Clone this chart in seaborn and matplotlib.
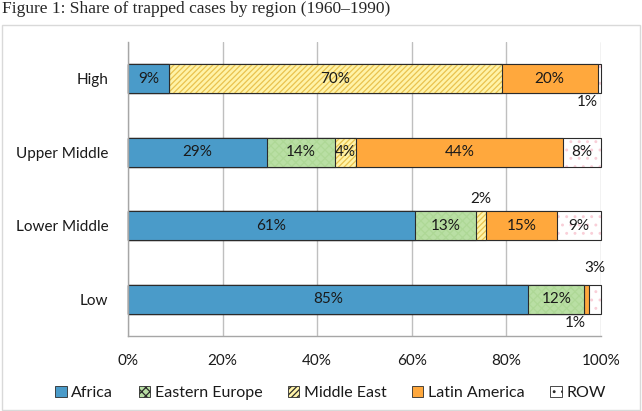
import matplotlib
matplotlib.use("Agg")
import matplotlib.pyplot as plt
from matplotlib.patches import Patch, Rectangle
import pandas as pd
import seaborn as sns

sns.set_style("white")
plt.rcParams["font.family"] = ["Lato", "DejaVu Sans"]
plt.rcParams["hatch.linewidth"] = 0.9

# shares (%)
groups = ["High", "Upper Middle", "Lower Middle", "Low"]
africa = [8.6, 29.4, 60.7, 84.6]
eastern_europe = [0.0, 14.4, 12.8, 11.9]
middle_east = [70.4, 4.3, 2.2, 0.0]
latin_america = [20.3, 43.9, 15.0, 1.0]
row = [0.7, 8.0, 9.3, 2.6]

regions = ["Africa", "Eastern Europe", "Middle East", "Latin America", "ROW"]
series = [africa, eastern_europe, middle_east, latin_america, row]
x_ticks = [0, 20, 40, 60, 80, 100]

styles = {
    "Africa": dict(color="#4A9BC9", hatch=None, hatchcolor=None),
    "Eastern Europe": dict(color="#B9DFA4", hatch="xxxx", hatchcolor="#AED896"),
    "Middle East": dict(color="#FFF3A8", hatch="//////", hatchcolor="#E9C24E"),
    "Latin America": dict(color="#FFA83D", hatch=None, hatchcolor=None),
    "ROW": dict(color="#FFFFFF", hatch="..", hatchcolor="#F9CFD8"),
}

# labels that sit outside the bar: (group, region) -> (side, y offset)
outside = {
    ("High", "ROW"): ("below", 0.31),
    ("Lower Middle", "Middle East"): ("above", -0.36),
    ("Low", "Latin America"): ("below", 0.32),
    ("Low", "ROW"): ("above", -0.43),
}

df = pd.DataFrame({"group": groups})
for name, vals in zip(regions, series):
    df[name] = vals
cum = df[regions].cumsum(axis=1)

fig = plt.figure(figsize=(6.42, 4.11), dpi=100)
ax = fig.add_axes([128 / 642, 1 - 336 / 411, 473 / 642, 294 / 411])

# draw cumulative bars from the total down so each segment shows
for name in reversed(regions):
    st = styles[name]
    n_before = len(ax.patches)
    sns.barplot(x=cum[name], y=df["group"], order=groups, orient="h",
                color=st["color"], saturation=1, width=0.4,
                edgecolor="#2B2B2B", linewidth=0.8, hatch=st["hatch"], ax=ax)
    for p in ax.patches[n_before:]:
        p.set_facecolor(st["color"])
        p.set_clip_on(False)
        if st["hatchcolor"]:
            if hasattr(p, "set_hatchcolor"):
                p.set_hatchcolor(st["hatchcolor"])
            else:
                p._hatch_color = matplotlib.colors.to_rgba(st["hatchcolor"])

# data labels
lab_kw = dict(fontsize=11, color="#1A1A1A", va="center")
for i, g in enumerate(groups):
    for name in regions:
        v = df.loc[i, name]
        if v <= 0:
            continue
        mid = cum.loc[i, name] - v / 2
        txt = f"{v:.0f}%"
        if (g, name) in outside:
            side, dy = outside[(g, name)]
            if side == "below":
                ax.text(mid - 0.3, i + dy, txt, ha="right", **lab_kw)
            else:
                ax.text(mid, i + dy, txt, ha="center", **lab_kw)
        else:
            ax.text(mid, i, txt, ha="center", **lab_kw)

ax.set_xlim(0, 100)
ax.set_ylim(len(groups) - 0.5, -0.5)
ax.set_xticks(x_ticks)
ax.set_xticklabels([f"{t}%" for t in x_ticks])
ax.set_xlabel("")
ax.set_ylabel("")
ax.xaxis.grid(True, color="#BFBFBF", linewidth=1)
ax.yaxis.grid(False)
ax.set_axisbelow(True)
ax.set_yticks(range(len(groups)))
ax.set_yticklabels(groups)
ax.set_yticks([k - 0.5 for k in range(len(groups) + 1)], minor=True)
ax.tick_params(axis="y", which="major", length=0, pad=14, labelsize=11,
               labelcolor="#1A1A1A")
ax.tick_params(axis="y", which="minor", length=6, color="#A6A6A6", width=1,
               direction="out")
ax.tick_params(axis="x", length=6, color="#A6A6A6", width=1, direction="out",
               pad=7, labelsize=11, labelcolor="#1A1A1A")
for s in ["top", "right"]:
    ax.spines[s].set_visible(False)
for s in ["left", "bottom"]:
    ax.spines[s].set_color("#A6A6A6")
    ax.spines[s].set_linewidth(1)

handles = []
for name in regions:
    st = styles[name]
    h = Patch(facecolor=st["color"], edgecolor="#2B2B2B", linewidth=0.6,
              hatch=st["hatch"], label=name)
    handles.append(h)
fig.legend(handles=handles, loc="center", bbox_to_anchor=(0.515, 1 - 393 / 411),
           ncol=5, frameon=False, fontsize=11.5, handlelength=0.7,
           handleheight=0.7, handletextpad=0.3, columnspacing=1.6,
           labelcolor="#1A1A1A")

fig.patches.append(Rectangle((2 / 642, 1 / 411), 638 / 642, 385 / 411,
                             transform=fig.transFigure, fill=False,
                             edgecolor="#D9D9D9", linewidth=1))
fig.text(0.003, 1 - 9 / 411, "Figure 1: Share of trapped cases by region (1960\u20131990)",
         family=["Liberation Serif"], fontsize=12.5, va="center", ha="left")

fig.savefig("out.png", dpi=100)
